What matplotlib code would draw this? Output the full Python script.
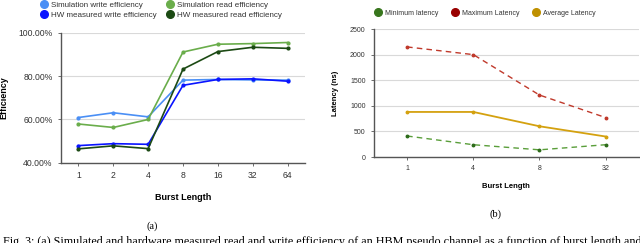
import matplotlib
matplotlib.use("Agg")
import matplotlib.pyplot as plt
from matplotlib.lines import Line2D

plt.rcParams['font.family'] = ['Liberation Sans', 'DejaVu Sans']

# (a) efficiency vs burst length
burst_a = ["1", "2", "4", "8", "16", "32", "64"]
sim_write = [60.9, 63.1, 61.2, 78.2, 78.5, 78.3, 78.2]
sim_read = [57.9, 56.3, 60.0, 91.2, 94.8, 95.1, 95.6]
hw_write = [47.9, 48.8, 48.5, 75.8, 78.5, 78.8, 77.7]
hw_read = [46.4, 47.8, 46.5, 83.3, 91.4, 93.4, 92.9]

# (b) latency vs burst length
burst_b = ["1", "4", "8", "32"]
min_lat = [410, 240, 140, 240]
max_lat = [2150, 2000, 1210, 770]
avg_lat = [880, 880, 600, 400]

caption = ("Fig. 3: (a) Simulated and hardware measured read and write efficiency "
           "of an HBM pseudo channel as a function of burst length and")

spine_c = "#555555"
grid_c = "#d9d9d9"

fig = plt.figure(figsize=(6.4, 2.43), dpi=100)

def style_axes(ax):
    for s in ["top", "right"]:
        ax.spines[s].set_visible(False)
    ax.spines["left"].set_color(spine_c)
    ax.spines["bottom"].set_color(spine_c)
    ax.spines["left"].set_linewidth(1.0)
    ax.spines["bottom"].set_linewidth(1.0)
    ax.yaxis.grid(True, color=grid_c, linewidth=0.8)
    ax.set_axisbelow(True)
    ax.tick_params(axis="both", colors=spine_c, length=2.5, width=0.6,
                   labelcolor="#333333")

# ---- left chart
ax1 = fig.add_axes([0.0953, 0.3305, 0.3813, 0.5337])
xa = list(range(len(burst_a)))
series_a = [
    (sim_write, "#4a8ff5", "Simulation write efficiency"),
    (sim_read, "#6aad4b", "Simulation read efficiency"),
    (hw_write, "#0a14ff", "HW measured write efficiency"),
    (hw_read, "#1c4a14", "HW measured read efficiency"),
]
for vals, c, lab in series_a:
    ax1.plot(xa, vals, color=c, lw=1.2, marker="o", ms=2, label=lab)
ax1.set_xlim(-0.5, len(burst_a) - 0.5)
ax1.set_ylim(40, 100)
ax1.set_yticks([40, 60, 80, 100])
ax1.set_yticklabels(["40.00%", "60.00%", "80.00%", "100.00%"])
ax1.set_xticks(xa)
ax1.set_xticklabels(burst_a)
style_axes(ax1)
ax1.tick_params(labelsize=6.2)
ax1.set_xlabel("Burst Length", fontsize=6.5, fontweight="bold", labelpad=9)
ax1.set_ylabel("Efficiency", fontsize=6.5, fontweight="bold", labelpad=7)

handles_a = [Line2D([], [], ls="none", marker="o", ms=5.5, color=c) for _, c, _ in series_a]
labels_a = [lab for _, _, lab in series_a]
order = [0, 2, 1, 3]
fig.legend([handles_a[i] for i in order], [labels_a[i] for i in order],
           loc="center", bbox_to_anchor=(0.252, 0.958), ncol=2, frameon=False,
           fontsize=5.8, handlelength=0.8, handletextpad=0.5, columnspacing=1.2,
           labelspacing=0.35, labelcolor="#333333")

# ---- right chart
ax2 = fig.add_axes([0.5844, 0.3539, 0.4137, 0.5267])
xb = list(range(len(burst_b)))
ax2.plot(xb, max_lat, color="#c0392b", lw=1.0, ls=(0, (4, 3)), marker="o", ms=1.8)
ax2.plot(xb, avg_lat, color="#d4a10f", lw=1.3, marker="o", ms=1.8)
ax2.plot(xb, min_lat, color="#5a9e3a", lw=1.0, ls=(0, (4, 3)), marker="o", ms=1.8,
         mfc="#2d6b1a", mec="#2d6b1a")
ax2.set_xlim(-0.5, len(burst_b) - 0.5)
ax2.set_ylim(0, 2500)
ax2.set_yticks([0, 500, 1000, 1500, 2000, 2500])
ax2.set_xticks(xb)
ax2.set_xticklabels(burst_b)
style_axes(ax2)
ax2.tick_params(labelsize=5)
ax2.set_xlabel("Burst Length", fontsize=5.5, fontweight="bold", labelpad=8)
ax2.set_ylabel("Latency (ns)", fontsize=5.5, fontweight="bold", labelpad=8)

leg_b = [("Minimum latency", "#38761d"), ("Maximum Latency", "#990000"),
         ("Average Latency", "#bf9000")]
fig.legend([Line2D([], [], ls="none", marker="o", ms=5.5, color=c) for _, c in leg_b],
           [l for l, _ in leg_b], loc="center", bbox_to_anchor=(0.758, 0.945),
           ncol=3, frameon=False, fontsize=5.0, handlelength=0.8,
           handletextpad=0.6, columnspacing=2.0, labelcolor="#333333")

# sub-captions and (cut off) figure caption
fig.text(0.2375, 1 - 226 / 243, "(a)", ha="center", va="center",
         fontsize=7.5, family="Liberation Serif")
fig.text(0.7735, 1 - 214 / 243, "(b)", ha="center", va="center",
         fontsize=7.5, family="Liberation Serif")
fig.text(0.004, 1 - 236 / 243, caption, ha="left", va="top",
         fontsize=8.7, family="Liberation Serif")

fig.savefig("out.png", dpi=100)
